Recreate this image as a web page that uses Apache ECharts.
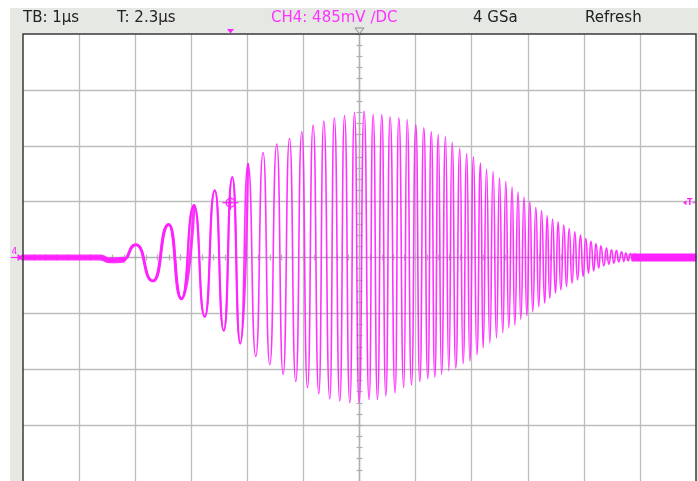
<!DOCTYPE html>
<html><head><meta charset="utf-8">
<script src="https://cdn.jsdelivr.net/npm/echarts@6/dist/echarts.min.js"></script>
<style>html,body{margin:0;padding:0;background:#fff}#c{width:698px;height:481px}</style>
</head><body><div id="c"></div>
<script>
// ---- data (time in µs relative to screen centre, amplitude in divisions) ----
const headerLabels = ['TB: 1\u00b5s', 'T: 2.3\u00b5s', 'CH4: 485mV \u2215DC', '4 GSa', 'Refresh'];
const timeUs = [
  -6.0, -4.631, -4.453, -4.221,
  -3.989, -3.680, -3.401, -3.174, -2.949, -2.759, -2.580, -2.420,
  -2.268, -2.126, -1.987, -1.849, -1.719, -1.600, -1.475, -1.362,
  -1.248, -1.136, -1.029, -0.927, -0.827, -0.726, -0.637, -0.530,
  -0.449, -0.351, -0.267, -0.173, -0.089, -0.007, 0.082, 0.171,
  0.243, 0.321, 0.398, 0.469, 0.546, 0.635, 0.701, 0.790,
  0.849, 0.927, 1.004, 1.075, 1.147, 1.218, 1.280, 1.343,
  1.405, 1.462, 1.534, 1.592, 1.651, 1.717, 1.789, 1.847,
  1.913, 1.967, 2.033, 2.092, 2.158, 2.204, 2.265, 2.324,
  2.382, 2.443, 2.496, 2.555, 2.609, 2.662, 2.721, 2.769,
  2.828, 2.876, 2.935, 2.983, 3.037, 3.090, 3.144, 3.197,
  3.245, 3.304, 3.345, 3.393, 3.442, 3.495, 3.541, 3.590,
  3.643, 3.691, 3.738, 3.791, 3.839, 3.887, 3.941, 3.987,
  4.035, 4.083, 4.125, 4.178, 4.214, 4.267, 4.303, 4.356,
  4.404, 4.445, 4.494, 4.535, 4.583, 4.624, 4.672, 4.713,
  4.749, 4.790, 4.832, 4.868, 4.909, 4.954, 4.998, 6.0
];
const ampDiv = [
  0, 0, -0.05, -0.04,
  0.23, -0.42, 0.59, -0.74, 0.93, -1.06, 1.20, -1.31,
  1.44, -1.54, 1.67, -1.77, 1.88, -1.92, 2.03, -2.09,
  2.13, -2.22, 2.25, -2.33, 2.37, -2.44, 2.44, -2.53,
  2.50, -2.57, 2.54, -2.60, 2.60, -2.60, 2.62, -2.54,
  2.56, -2.54, 2.56, -2.48, 2.52, -2.42, 2.50, -2.33,
  2.47, -2.28, 2.38, -2.22, 2.32, -2.17, 2.25, -2.14,
  2.20, -2.09, 2.16, -2.03, 2.06, -1.98, 1.95, -1.90,
  1.86, -1.85, 1.80, -1.74, 1.69, -1.62, 1.58, -1.53,
  1.54, -1.44, 1.42, -1.35, 1.36, -1.26, 1.26, -1.21,
  1.17, -1.11, 1.08, -1.04, 1.00, -0.97, 0.90, -0.88,
  0.84, -0.82, 0.75, -0.73, 0.69, -0.64, 0.64, -0.58,
  0.58, -0.52, 0.52, -0.46, 0.46, -0.40, 0.40, -0.34,
  0.34, -0.28, 0.29, -0.24, 0.25, -0.19, 0.21, -0.15,
  0.17, -0.12, 0.14, -0.10, 0.13, -0.08, 0.10, -0.07,
  0.08, -0.06, 0.07, -0.05, 0.06, -0.05, 0.04, 0
];
const noiseAfterUs = [4.85, 6.0];
const noiseAfterDiv = [0, 0];
const triggerTimeUs = -2.3;
const triggerLevelDiv = 0.98;

// ---- chart ----
const MAG = '#ff22ff';
const GRID = '#bdbdbd';
const zip = (a, b) => a.map((v, i) => [v, b[i]]);
const pts = zip(timeUs, ampDiv);
const chart = echarts.init(document.getElementById('c'), null, {renderer: 'canvas'});

const axLine = {color: '#b0b0b0', width: 1.2};
function ax(type, pos, split) {
  return {type: 'value', min: type === 'x' ? -6 : -4, max: type === 'x' ? 6 : 4, interval: 1, position: pos,
    axisLine: {show: true, onZero: true, lineStyle: axLine},
    axisTick: {show: true, inside: false, length: 3, lineStyle: axLine},
    minorTick: {show: true, splitNumber: 5, length: 3, lineStyle: axLine},
    axisLabel: {show: false},
    splitLine: {show: split, showMinLine: false, showMaxLine: false, lineStyle: {color: GRID, width: 1.3}},
    minorSplitLine: {show: false}};
}
// every trace layer starts at the left edge of the screen; thicker layers stop earlier
const layer = (to, width, z) => ({type: 'line', data: pts.slice(0, to + 1), showSymbol: false, silent: true,
  smooth: 0.6, smoothMonotone: 'x', lineStyle: {color: MAG, width: width, opacity: 0.92, cap: 'round', join: 'round'}, z: z});

chart.setOption({
  animation: false,
  backgroundColor: '#e6e8e4',
  grid: {left: 23, top: 34, width: 673, height: 450, show: true, backgroundColor: '#ffffff', borderWidth: 0},
  xAxis: [ax('x', 'bottom', true), ax('x', 'top', false)],
  yAxis: [ax('y', 'left', true), ax('y', 'right', false)],
  series: [
    layer(3, 6, 3),
    layer(8, 3.0, 4),
    layer(14, 2.2, 4),
    layer(pts.length - 1, 1.6, 4),
    {type: 'line', data: zip(noiseAfterUs, noiseAfterDiv), showSymbol: false, silent: true,
      lineStyle: {color: MAG, width: 8}, z: 3}
  ]
});

const px = (x, y) => chart.convertToPixel({xAxisIndex: 0, yAxisIndex: 0}, [x, y]);
const [leftX, topY] = px(-6, 4);
const [rightX] = px(6, 0);
const [cx0, cy0] = px(0, 0);
const [tx, ly] = px(triggerTimeUs, triggerLevelDiv);
const hdrFont = '15px "DejaVu Sans"';
const hdrX = [23, 117, 271, 473, 585];
const hdrColor = ['#222', '#222', '#ff33ff', '#222', '#222'];

const g = [
  {type: 'rect', shape: {x: 0, y: 0, width: 698, height: 8}, style: {fill: '#fff'}, silent: true},
  {type: 'rect', shape: {x: 0, y: 0, width: 10, height: 481}, style: {fill: '#fff'}, silent: true},
  {type: 'polyline', shape: {points: [[leftX, 490], [leftX, topY], [rightX, topY], [rightX, 490]]},
    style: {stroke: '#3a3a3a', lineWidth: 1.5, fill: null}, z: 100, silent: true},
  {type: 'polygon', shape: {points: [[tx - 3.5, 29], [tx + 3.5, 29], [tx, 33.5]]}, style: {fill: MAG}, z: 100},
  {type: 'polygon', shape: {points: [[cx0 - 4.5, 28], [cx0 + 4.5, 28], [cx0, 33.5]]},
    style: {fill: '#e6e8e4', stroke: '#8a8a8a', lineWidth: 1}, z: 100},
  {type: 'circle', shape: {cx: tx, cy: ly, r: 4.3}, style: {fill: null, stroke: MAG, lineWidth: 1.3}, z: 100},
  {type: 'line', shape: {x1: tx - 8, y1: ly, x2: tx + 8, y2: ly}, style: {stroke: MAG, lineWidth: 1.3}, z: 100},
  {type: 'line', shape: {x1: tx, y1: ly - 6, x2: tx, y2: ly + 7}, style: {stroke: MAG, lineWidth: 1.3}, z: 100},
  {type: 'polygon', shape: {points: [[rightX - 13, ly], [rightX - 9.5, ly - 2.5], [rightX - 9.5, ly + 2.5]]}, style: {fill: MAG}, z: 100},
  {type: 'text', x: rightX - 9, y: ly, style: {text: 'T', font: 'bold 8px "DejaVu Sans"', fill: MAG, verticalAlign: 'middle', align: 'left'}, z: 100},
  {type: 'line', shape: {x1: rightX - 3.5, y1: ly, x2: rightX - 1, y2: ly}, style: {stroke: MAG, lineWidth: 1}, z: 100},
  {type: 'text', x: 11.5, y: cy0 - 1.5, style: {text: '4', font: '9px "DejaVu Sans"', fill: MAG, verticalAlign: 'bottom', align: 'left'}, z: 100},
  {type: 'line', shape: {x1: 11, y1: cy0, x2: 20, y2: cy0}, style: {stroke: MAG, lineWidth: 1.2}, z: 100},
  {type: 'polygon', shape: {points: [[17.5, cy0 - 3.5], [leftX, cy0], [17.5, cy0 + 3.5]]}, style: {fill: MAG}, z: 100}
];
headerLabels.forEach((t, i) => g.push({type: 'text', x: hdrX[i], y: 18.5,
  style: {text: t, font: hdrFont, fill: hdrColor[i], verticalAlign: 'middle', align: 'left'}, z: 100}));
chart.setOption({graphic: g});
</script></body></html>
